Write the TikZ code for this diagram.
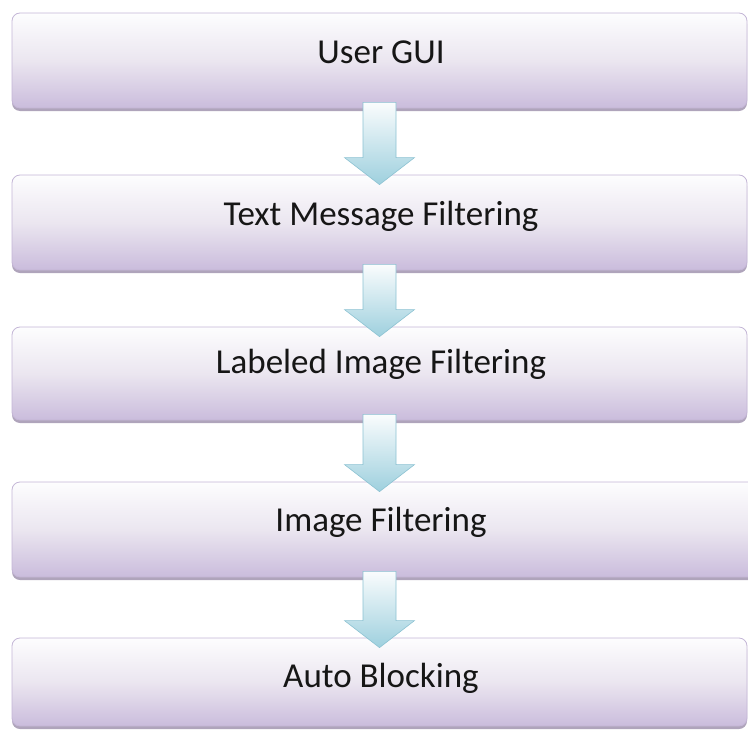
\documentclass[tikz,border=0pt]{standalone}
\usepackage{fontspec}
\setmainfont{Carlito}
\usetikzlibrary{calc,shadows}

\definecolor{boxtop}{RGB}{253,253,254}
\definecolor{boxmid}{RGB}{235,230,240}
\definecolor{boxbot}{RGB}{202,188,220}
\definecolor{boxline}{RGB}{196,182,214}
\definecolor{boxshade}{RGB}{148,134,164}
\definecolor{arrtop}{RGB}{250,252,253}
\definecolor{arrbot}{RGB}{158,208,222}
\definecolor{arrline}{RGB}{140,194,210}
\definecolor{inktext}{RGB}{22,22,22}

\tikzset{
  stepbox/.style={rectangle, rounded corners=8pt, draw=boxline, line width=0.8pt,
    top color=boxtop, bottom color=boxbot, middle color=boxmid,
    minimum width=735pt, inner sep=0pt,
    drop shadow={shadow xshift=0pt, shadow yshift=-3pt, fill=boxshade, opacity=0.75}},
  steplabel/.style={anchor=base, font=\fontsize{35}{40}\selectfont, text=inktext, inner sep=0pt},
  flowarrow/.style={draw=arrline, line width=0.6pt, top color=arrtop, bottom color=arrbot, line join=miter}
}

% block arrow from the bottom of one box into the top of the next,
% kept on the common axis of the column (the centre of b1)
\newcommand{\blockarrow}[2]{%
  \path let \p1=(#1.south -| b1.center), \p2=(#2.north -| b1.center) in
    [flowarrow] (\x1-16.5pt,\y1+6pt) -- (\x1+16.5pt,\y1+6pt)
      -- (\x1+16.5pt,\y2+17pt) -- (\x1+35pt,\y2+17pt)
      -- (\x1,\y2-10pt) -- (\x1-35pt,\y2+17pt)
      -- (\x1-16.5pt,\y2+17pt) -- cycle;}

\begin{document}
\begin{tikzpicture}[x=1pt,y=-1pt]
  \useasboundingbox (0,0) rectangle (748,731);

  \node[stepbox, minimum height=95pt] (b1) at (379.5,60.5) {};
  \node[stepbox, minimum height=95pt] (b2) at (379.5,222.5) {};
  \node[stepbox, minimum height=93pt] (b3) at (379.5,373.5) {};
  \node[stepbox, minimum height=95pt, minimum width=745pt] (b4) at (384.5,529.5) {};
  \node[stepbox, minimum height=88pt] (b5) at (379.5,682) {};

  \node[steplabel] (t1) at (381,63) {User GUI};
  \node[steplabel] (t2) at (381,225) {Text Message Filtering};
  \node[steplabel] (t3) at (381,373) {Labeled Image Filtering};
  \node[steplabel] (t4) at (381,531) {Image Filtering};
  \node[steplabel] (t5) at (381,687) {Auto Blocking};

  \blockarrow{b1}{b2}
  \blockarrow{b2}{b3}
  \blockarrow{b3}{b4}
  \blockarrow{b4}{b5}
\end{tikzpicture}
\end{document}
